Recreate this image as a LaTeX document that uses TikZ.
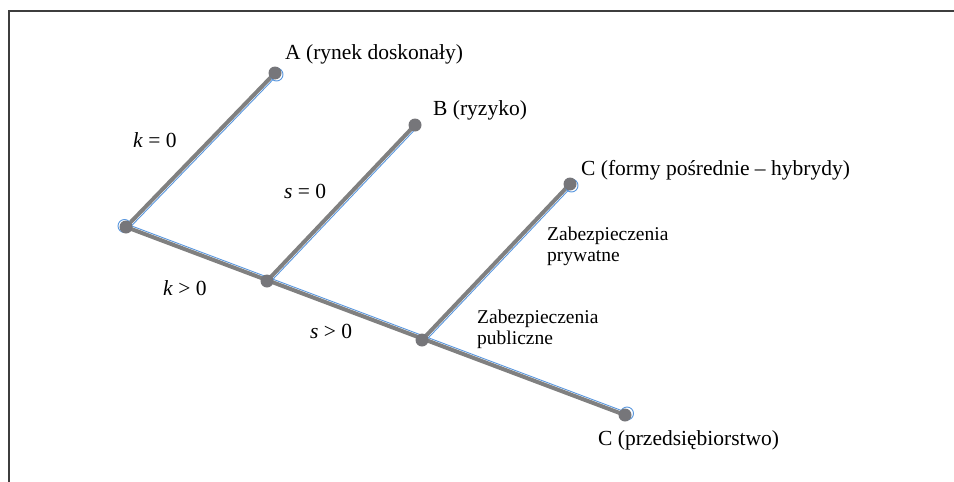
\documentclass[tikz,border=0pt]{standalone}
\usepackage{fontspec}
\setmainfont{Liberation Serif}
\definecolor{linegray}{RGB}{128,128,128}
\definecolor{dotgray}{RGB}{118,118,122}
\definecolor{lineblue}{RGB}{88,150,222}
\definecolor{framegray}{RGB}{62,62,62}
\begin{document}
\begin{tikzpicture}[x=1pt,y=-1pt,
    branch/.style={draw=linegray, line width=4pt},
    rim/.style={draw=lineblue, line width=0.9pt},
    lbl/.style={anchor=base west, inner sep=0pt, font=\fontsize{21.5}{24}\selectfont},
    note/.style={anchor=base west, inner sep=0pt, align=left, font=\fontsize{19.5}{21}\selectfont}]
    \useasboundingbox (0,0) rectangle (954,482);
    \clip (0,0) rectangle (954,482);
    \draw[framegray, line width=1.8pt] (9,11) rectangle (1000,540);

    % Coordinates
    \coordinate (R) at (126,227);
    \coordinate (A) at (275,73);
    \coordinate (P) at (267,281);
    \coordinate (B) at (415,125);
    \coordinate (Q) at (422,340);
    \coordinate (C) at (570,184);
    \coordinate (D) at (625,415);

    % Drawing
    \draw[rim] ([xshift=1pt,yshift=2.8pt]R) -- ([xshift=1pt,yshift=2.8pt]D);
    \draw[rim] ([xshift=2.2pt,yshift=-2.2pt]R) -- ([xshift=2.2pt,yshift=-2.2pt]A);
    \draw[rim] ([xshift=2.2pt,yshift=-2.2pt]P) -- ([xshift=2.2pt,yshift=-2.2pt]B);
    \draw[rim] ([xshift=2.2pt,yshift=-2.2pt]Q) -- ([xshift=2.2pt,yshift=-2.2pt]C);
    \draw[branch] (R) -- (D);
    \draw[branch] (R) -- (A);
    \draw[branch] (P) -- (B);
    \draw[branch] (Q) -- (C);
    \draw[rim] ([xshift=-1.5pt,yshift=1pt]R) circle (6.5pt);
    \draw[rim] ([xshift=1.5pt,yshift=-1.5pt]A) circle (6.5pt);
    \draw[rim] ([xshift=1.5pt,yshift=-1.5pt]C) circle (6.5pt);
    \draw[rim] ([xshift=2pt,yshift=1.5pt]D) circle (6.5pt);
    \fill[dotgray] (R) circle (6.5pt);
    \fill[dotgray] (A) circle (6.5pt);
    \fill[dotgray] (P) circle (6.5pt);
    \fill[dotgray] (B) circle (6.5pt);
    \fill[dotgray] (Q) circle (6.5pt);
    \fill[dotgray] (C) circle (6.5pt);
    \fill[dotgray] (D) circle (6.5pt);
    \node[lbl] (labA) at (285,59) {A (rynek doskonały)};
    \node[lbl] (labB) at (433,115) {B (ryzyko)};
    \node[lbl] (labC) at (581,175) {C (formy pośrednie – hybrydy)};
    \node[lbl] (labD) at (598,445) {C (przedsiębiorstwo)};
    \node[lbl] (kzero) at (133,147) {\textit{k} = 0};
    \node[lbl] (szero) at (284,198) {\textit{s} = 0};
    \node[lbl] (kpos) at (163,295) {\textit{k} > 0};
    \node[lbl] (spos) at (310,338) {\textit{s} > 0};
    \node[note] (priv) at (547,261) {Zabezpieczenia\\prywatne};
    \node[note] (publ) at (477,344) {Zabezpieczenia\\publiczne};
\end{tikzpicture}
\end{document}
